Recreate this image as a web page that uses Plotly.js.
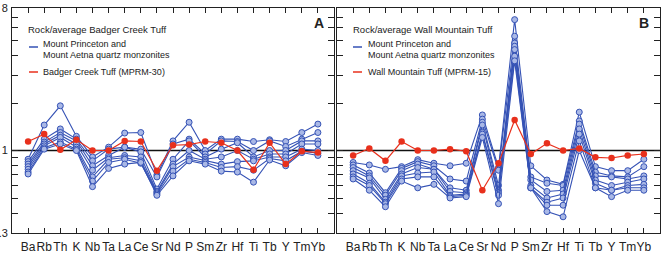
<!DOCTYPE html>
<html><head><meta charset="utf-8">
<script src="https://cdn.plot.ly/plotly-3.0.1.min.js"></script>
<style>html,body{margin:0;padding:0;background:#fff}#c{width:664px;height:260px}</style>
</head><body><div id="c"></div>
<script>
const elements = ["Ba","Rb","Th","K","Nb","Ta","La","Ce","Sr","Nd","P","Sm","Zr","Hf","Ti","Tb","Y","Tm","Yb"];

// Panel A: rock / average Badger Creek Tuff
const badgerCreek = [1.14,1.27,1.01,1.17,1.00,1.00,1.15,1.14,0.745,1.08,1.09,1.14,1.12,1.00,0.756,1.12,0.82,0.99,0.97];
const quartzMonzA1 = [0.88,1.45,1.92,1.23,0.91,1.05,1.29,1.30,0.70,1.15,1.51,1.00,1.18,1.18,1.14,1.17,1.14,1.30,1.47];
const quartzMonzA2 = [0.85,1.18,1.37,1.18,0.86,1.02,1.05,1.02,0.68,1.10,1.18,0.95,1.15,1.14,1.00,1.15,1.06,1.18,1.30];
const quartzMonzA3 = [0.82,1.13,1.30,1.15,0.80,0.93,1.05,0.98,0.57,0.88,1.15,0.91,1.02,1.12,0.91,1.00,1.00,1.15,1.15];
const quartzMonzA4 = [0.79,1.10,1.25,1.10,0.75,0.90,0.93,0.91,0.55,0.82,1.00,0.88,0.91,1.00,0.88,0.95,0.95,1.10,1.10];
const quartzMonzA5 = [0.76,1.07,1.21,1.05,0.68,0.88,0.90,0.86,0.54,0.79,0.91,0.86,0.82,0.85,0.86,0.91,0.91,1.02,1.00];
const quartzMonzA6 = [0.73,1.04,1.13,1.02,0.64,0.84,0.88,0.83,0.53,0.74,0.88,0.84,0.78,0.79,0.75,0.89,0.86,0.99,0.96];
const quartzMonzA7 = [0.71,1.02,1.10,1.00,0.59,0.77,0.82,0.84,0.52,0.69,0.86,0.82,0.74,0.73,0.63,0.87,0.80,0.97,0.93];

// Panel B: rock / average Wall Mountain Tuff
const wallMountain = [0.93,1.03,0.86,1.14,1.00,1.00,1.02,0.99,0.56,0.83,1.56,0.95,1.11,1.00,1.03,0.905,0.896,0.93,0.95];
const quartzMonzB1 = [0.84,0.81,0.76,0.79,0.875,0.83,0.80,0.83,1.68,0.78,6.75,0.80,0.65,0.61,1.75,0.79,0.745,0.745,0.88];
const quartzMonzB2 = [0.81,0.72,0.54,0.77,0.85,0.80,0.66,0.64,1.58,0.75,5.30,0.68,0.62,0.60,1.54,0.73,0.69,0.68,0.79];
const quartzMonzB3 = [0.78,0.69,0.52,0.745,0.82,0.76,0.58,0.56,1.51,0.60,4.80,0.65,0.55,0.56,1.47,0.69,0.68,0.66,0.69];
const quartzMonzB4 = [0.745,0.67,0.49,0.71,0.78,0.76,0.55,0.54,1.45,0.56,4.58,0.60,0.50,0.53,1.37,0.65,0.60,0.63,0.66];
const quartzMonzB5 = [0.71,0.62,0.47,0.69,0.72,0.73,0.52,0.53,1.30,0.54,4.36,0.58,0.47,0.50,1.27,0.62,0.56,0.60,0.61];
const quartzMonzB6 = [0.68,0.60,0.46,0.66,0.68,0.68,0.51,0.52,1.27,0.52,3.96,0.58,0.45,0.45,1.15,0.58,0.56,0.58,0.58];
const quartzMonzB7 = [0.66,0.56,0.44,0.64,0.58,0.61,0.50,0.51,1.21,0.46,3.70,0.58,0.41,0.38,1.00,0.58,0.51,0.56,0.56];

const yTickVals = [0.3,0.4,0.5,0.6,0.7,0.8,0.9,1,2,3,4,5,6,7,8];
const yTickText = ["0.3","","","","","","","1","","","","","","","8"];
const referenceLevel = 1;
const yRange = [0.3, 8];

const blueLine = '#3552b5', blueFill = '#a9b8e6', red = '#e8301c';
const FONT = 'Liberation Sans, Arial, Helvetica, sans-serif';

function blueTrace(y, xa, ya){
  return {x: elements, y: y, xaxis: xa, yaxis: ya, type:'scatter', mode:'lines+markers',
    line:{color: blueLine, width:1.1},
    marker:{symbol:'circle', size:6, color: blueFill, line:{color: blueLine, width:1}},
    showlegend:false, hoverinfo:'skip'};
}
function redTrace(y, xa, ya){
  return {x: elements, y: y, xaxis: xa, yaxis: ya, type:'scatter', mode:'lines+markers',
    line:{color: red, width:1.2},
    marker:{symbol:'circle', size:6.5, color: red},
    showlegend:false, hoverinfo:'skip'};
}

const traces = [];
[quartzMonzA1,quartzMonzA2,quartzMonzA3,quartzMonzA4,quartzMonzA5,quartzMonzA6,quartzMonzA7].forEach(s=>traces.push(blueTrace(s,'x','y')));
traces.push(redTrace(badgerCreek,'x','y'));
[quartzMonzB1,quartzMonzB2,quartzMonzB3,quartzMonzB4,quartzMonzB5,quartzMonzB6,quartzMonzB7].forEach(s=>traces.push(blueTrace(s,'x2','y2')));
traces.push(redTrace(wallMountain,'x2','y2'));

const lr = [Math.log10(yRange[0]), Math.log10(yRange[1])];
function xax(domain){
  return {domain: domain, type:'category', range:[-1, 19], showgrid:false, zeroline:false,
    showline:true, linecolor:'#222', linewidth:1, mirror:'ticks',
    ticks:'inside', ticklen:5, tickcolor:'#222', tickwidth:1, tickangle:0,
    tickfont:{family: FONT, size:12, color:'#222'}, ticklabelstandoff:3, fixedrange:true};
}
function yax(anchor, labels){
  return {anchor: anchor, type:'log', range: lr, showgrid:false, zeroline:false,
    showline:true, linecolor:'#222', linewidth:1, mirror:'ticks',
    ticks:'inside', ticklen:6, tickcolor:'#222', tickwidth:1,
    tickmode:'array', tickvals: yTickVals, ticktext: labels ? yTickText : yTickVals.map(()=>''),
    showticklabels: labels, tickfont:{family: FONT, size:11, color:'#222'}, ticklabelstandoff:1, fixedrange:true};
}

const dA = [0, 322/648], dB = [325/648, 1];

const ann = (x, y, text, opts={}) => Object.assign({xref:'paper', yref:'paper', x, y, text, showarrow:false,
  xanchor:'left', yanchor:'middle', font:{family: FONT, size:9, color:'#222'}}, opts);

// paper coords helpers (pixel -> paper)
const px = v => (v - 12) / 648;
const py = v => 1 - (v - 8) / 225;

const annotations = [
  ann(px(26), py(29), 'Rock/average Badger Creek Tuff', {font:{family:FONT,size:9.5,color:'#222'}}),
  ann(px(41), py(44), 'Mount Princeton and'),
  ann(px(41), py(55), 'Mount Aetna quartz monzonites'),
  ann(px(41), py(72), 'Badger Creek Tuff (MPRM-30)'),
  ann(px(319), py(23), '<b>A</b>', {xanchor:'center', font:{family:FONT,size:14,color:'#222'}}),
  ann(px(351), py(29), 'Rock/average Wall Mountain Tuff', {font:{family:FONT,size:9.5,color:'#222'}}),
  ann(px(366), py(44), 'Mount Princeton and'),
  ann(px(366), py(55), 'Mount Aetna quartz monzonites'),
  ann(px(366), py(72), 'Wall Mountain Tuff (MPRM-15)'),
  ann(px(644), py(23), '<b>B</b>', {xanchor:'center', font:{family:FONT,size:14,color:'#222'}})
];

const shapes = [
  {type:'line', xref:'x domain', yref:'y', x0:0, x1:1, y0:referenceLevel, y1:referenceLevel, line:{color:'#111', width:1.3}, layer:'below'},
  {type:'line', xref:'x2 domain', yref:'y2', x0:0, x1:1, y0:referenceLevel, y1:referenceLevel, line:{color:'#111', width:1.3}, layer:'below'},
  {type:'line', xref:'paper', yref:'paper', x0:px(29), x1:px(38), y0:py(47), y1:py(47), line:{color:blueLine, width:1.5}},
  {type:'line', xref:'paper', yref:'paper', x0:px(29), x1:px(38), y0:py(72), y1:py(72), line:{color:red, width:1.5}},
  {type:'line', xref:'paper', yref:'paper', x0:px(353), x1:px(362), y0:py(47), y1:py(47), line:{color:blueLine, width:1.5}},
  {type:'line', xref:'paper', yref:'paper', x0:px(353), x1:px(362), y0:py(72), y1:py(72), line:{color:red, width:1.5}}
];

const layout = {
  width:664, height:260, margin:{l:12, r:4, t:8, b:27},
  paper_bgcolor:'#fff', plot_bgcolor:'#fff', showlegend:false,
  xaxis: xax(dA), yaxis: yax('x', true),
  xaxis2: Object.assign(xax(dB), {anchor:'y2'}), yaxis2: yax('x2', false),
  annotations, shapes
};
layout.xaxis.anchor = 'y';

Plotly.newPlot('c', traces, layout, {staticPlot:true, displayModeBar:false});
</script></body></html>
